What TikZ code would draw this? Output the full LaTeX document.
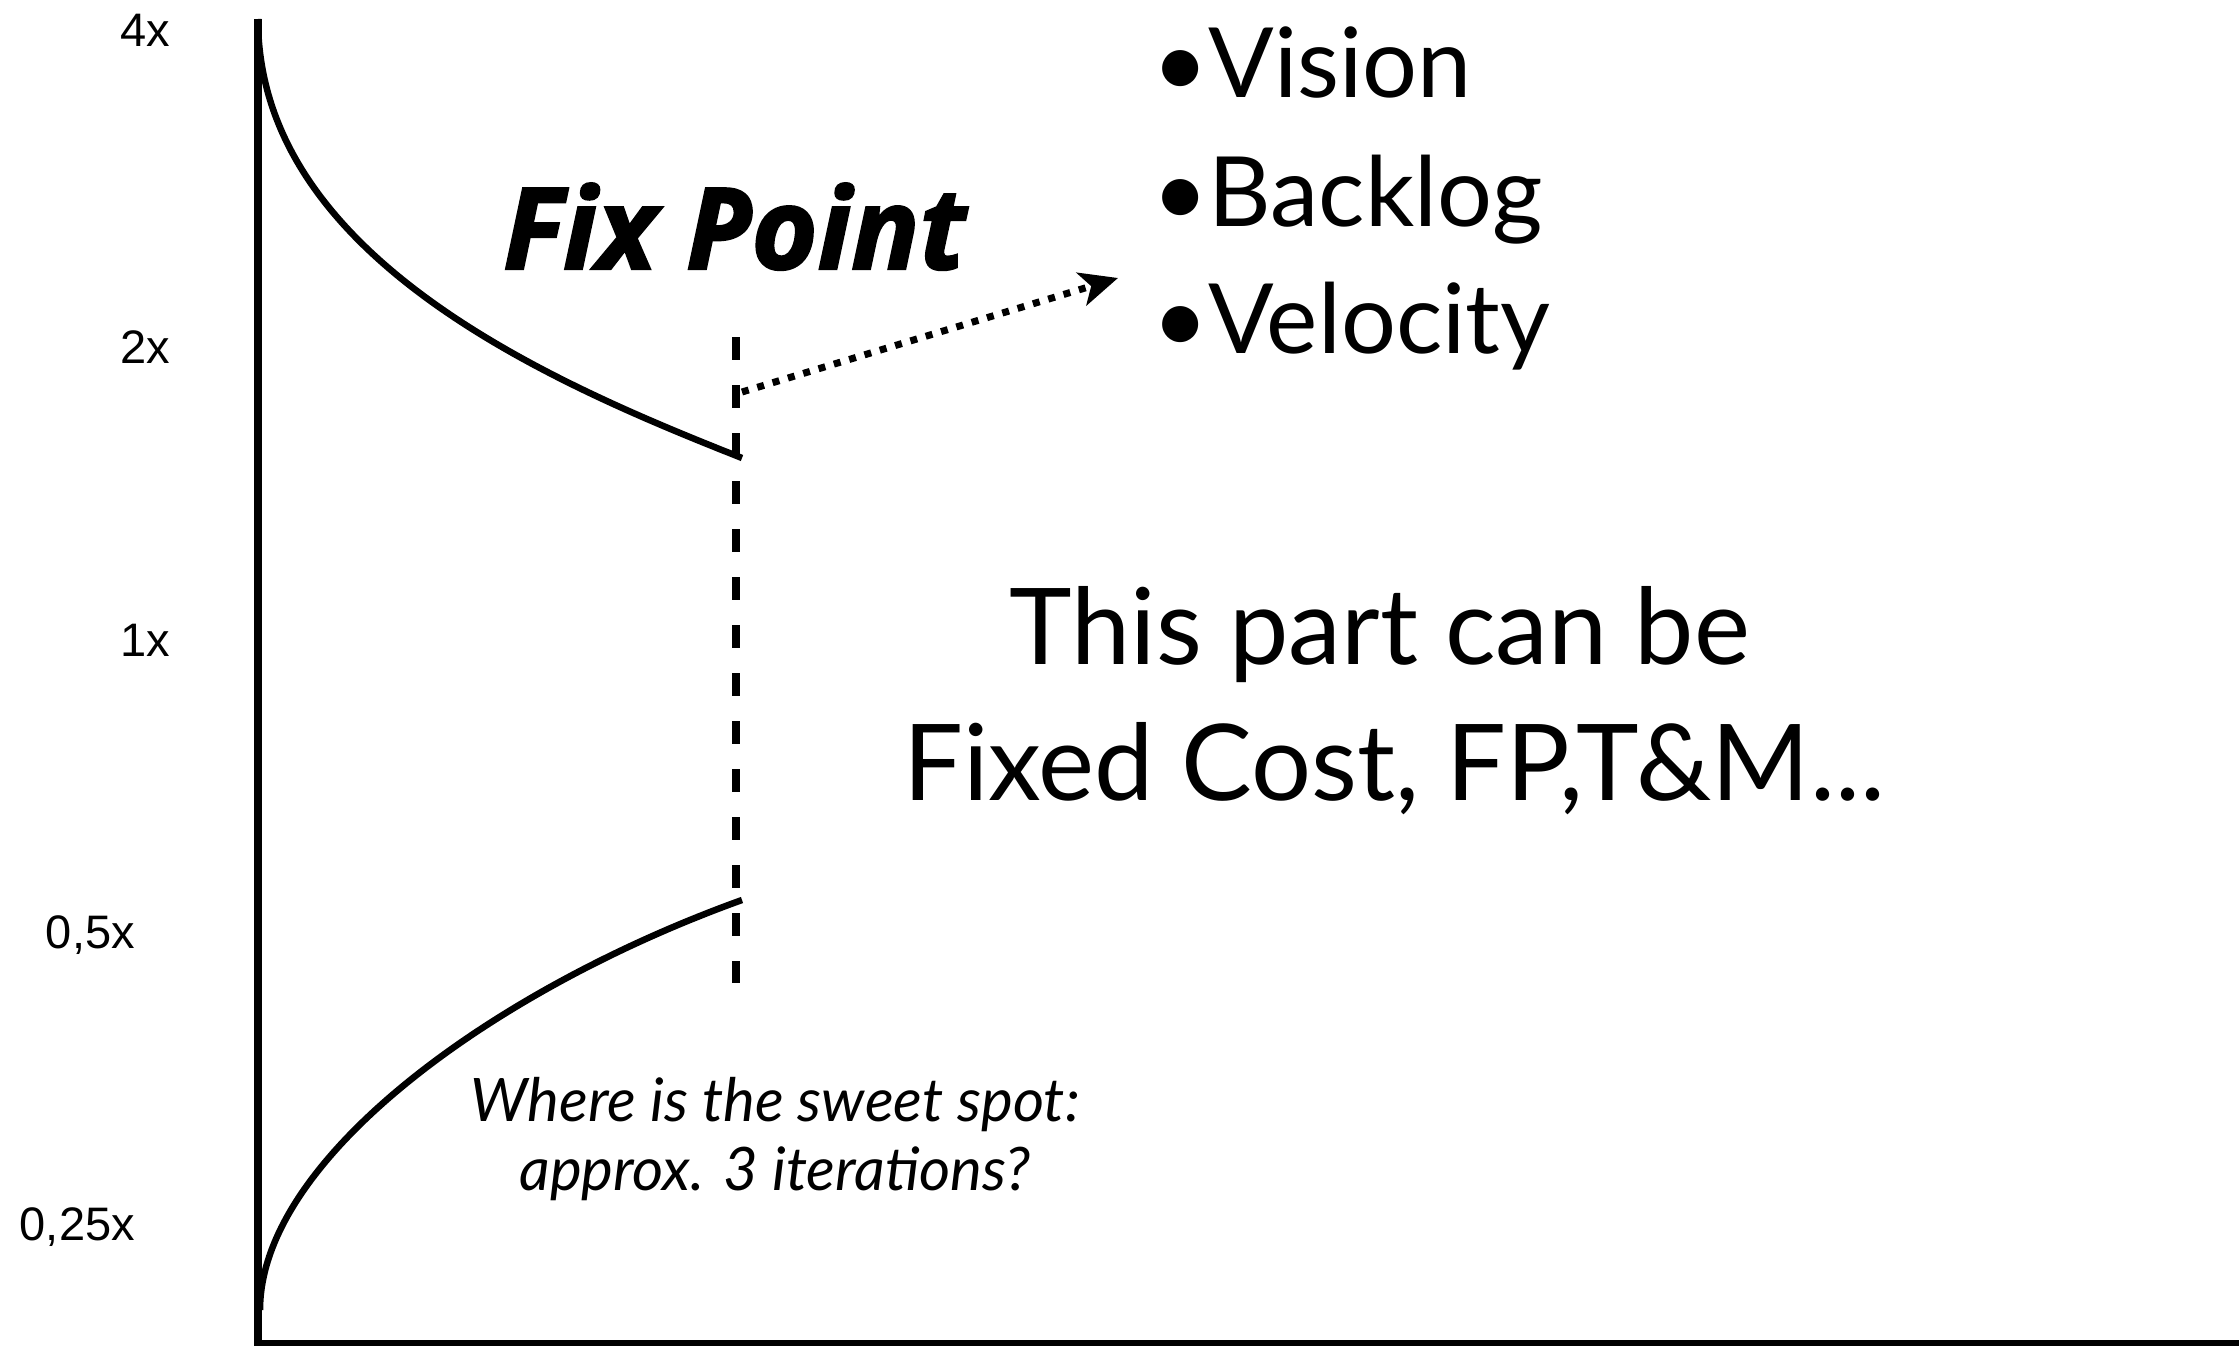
\documentclass[tikz,border=0pt]{standalone}
\usepackage{fontspec}
\setmainfont{Lato}
\newfontfamily\axisfont{Liberation Sans}
\newfontfamily\fixfont[FakeBold=2]{Open Sans}
\usetikzlibrary{arrows.meta}
\begin{document}
\begin{tikzpicture}[x=1pt,y=-1pt,
  axislbl/.style={anchor=base east,inner sep=0pt,font=\axisfont\fontsize{47}{50}\selectfont},
  bullet/.style={anchor=base west,inner sep=0pt,font=\fontsize{97}{110}\selectfont},
  bigtxt/.style={anchor=base,inner sep=0pt,font=\fontsize{106}{130}\selectfont},
  ittxt/.style={anchor=base,inner sep=0pt,font=\itshape\fontsize{60}{70}\selectfont},
  curve/.style={line width=6.5pt},
  axisline/.style={line width=8pt},
  fixline/.style={line width=8pt,dash pattern=on 23pt off 25pt},
  dotarrow/.style={line width=7pt,dash pattern=on 7pt off 9pt,-{Stealth[length=38pt,width=34pt,inset=10pt]}}]
\useasboundingbox (0,0) rectangle (2239,1346);
\fill[white] (0,0) rectangle (2239,1346);
% axes
\coordinate (top) at (258,19);
\coordinate (origin) at (258,1343);
\coordinate (xend) at (2239,1343);
\draw[axisline] (top) -- (258,1346);
\draw[line width=6pt] (254,1343) -- (xend);
% curves
\coordinate (upend) at (742,458);
\coordinate (lowstart) at (260,1310);
\coordinate (lowend) at (742,900);
\draw[curve] (top) .. controls (258,260) and (560,386) .. (upend);
\draw[curve] (lowstart) .. controls (260,1160) and (492,990) .. (lowend);
% fix point line
\coordinate (fixtop) at (736,337);
\coordinate (fixbot) at (736,983);
\draw[fixline] (fixtop) -- (fixbot);
% dotted arrow
\coordinate (arrstart) at (742,392);
\coordinate (arrtip) at (1118,278);
\draw[dotarrow] (arrstart) -- (arrtip);
% axis labels
\node[axislbl] (l4) at (170,47) {4x};
\node[axislbl] (l2) at (170,363) {2x};
\node[axislbl] (l1) at (170,656) {1x};
\node[axislbl] (l05) at (135,948) {0,5x};
\node[axislbl] (l025) at (135,1240) {0,25x};
% texts
\node[anchor=base west,inner sep=0pt,font=\fixfont\bfseries\itshape\fontsize{113}{120}\selectfont] (fix) at (503,269) {Fix Point};
\node[bullet] (b1) at (1152,97) {•Vision};
\node[bullet] (b2) at (1152,226) {•Backlog};
\node[bullet] (b3) at (1152,353) {•Velocity};
\node[bigtxt] (t1) at (1380,664) {This part can be};
\node[bigtxt] (t2) at (1394,800) {Fixed Cost, FP,T\&M...};
\node[ittxt] (i1) at (775,1121) {Where is the sweet spot:};
\node[ittxt] (i2) at (775,1190) {approx. 3 iterations?};
\end{tikzpicture}
\end{document}
